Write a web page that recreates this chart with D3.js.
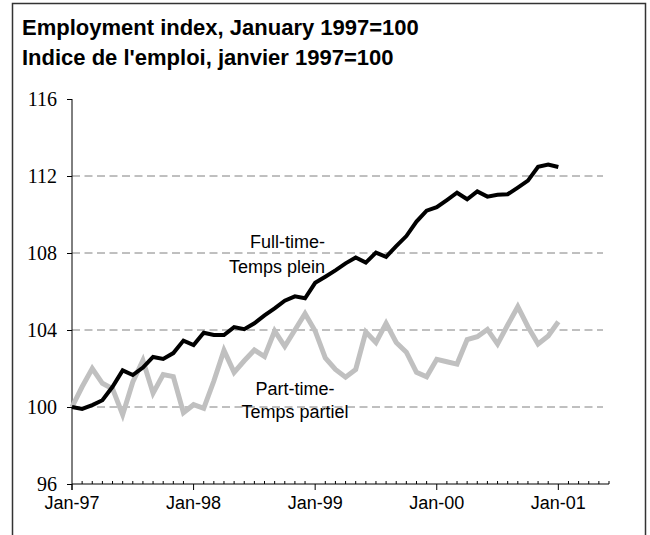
<!DOCTYPE html>
<html>
<head>
<meta charset="utf-8">
<script src="https://cdn.jsdelivr.net/npm/d3@7"></script>
<style>
    body { margin: 0; background: #fff; }
    svg { display: block; }
</style>
</head>
<body>
<svg id="chart" width="650" height="535" viewBox="0 0 650 535"></svg>
<script>
// monthly values, Jan-97 .. Jan-01
const fullTime = [
    100.0, 99.9, 100.1, 100.35, 101.05, 101.9, 101.66, 102.05, 102.6, 102.5, 102.8, 103.45,
    103.22, 103.86, 103.74, 103.74, 104.15, 104.04, 104.35, 104.76, 105.12, 105.52, 105.75, 105.65,
    106.45, 106.77, 107.1, 107.46, 107.77, 107.5, 108.02, 107.8, 108.36, 108.88, 109.63, 110.2,
    110.38, 110.75, 111.13, 110.79, 111.2, 110.93, 111.03, 111.05, 111.4, 111.76, 112.48, 112.6, 112.47
];
const partTime = [
    100.0, 101.05, 102.0, 101.23, 100.95, 99.6, 101.3, 102.42, 100.72, 101.68, 101.58, 99.7,
    100.12, 99.93, 101.35, 102.94, 101.8, 102.4, 102.96, 102.62, 103.95, 103.15, 104.0, 104.85,
    103.95, 102.55, 101.95, 101.55, 101.95, 103.9, 103.35, 104.35, 103.35, 102.85, 101.8, 101.57,
    102.48, 102.35, 102.23, 103.5, 103.65, 104.03, 103.27, 104.26, 105.21, 104.17, 103.27, 103.69, 104.43
];
const yTicks = [96, 100, 104, 108, 112, 116];
const gridValues = [100, 104, 108, 112];
const yearLabels = ["Jan-97", "Jan-98", "Jan-99", "Jan-00", "Jan-01"];
const titleLines = ["Employment index, January 1997=100", "Indice de l'emploi, janvier 1997=100"];

const svg = d3.select("#chart");
const sans = "'Liberation Sans', Arial, sans-serif";
const serif = "'Liberation Serif', 'Times New Roman', serif";

// outer frame (no bottom edge)
svg.append("path")
    .attr("d", "M12.5,535 V3.5 H645.5 V535")
    .attr("fill", "none")
    .attr("stroke", "#333")
    .attr("stroke-width", 1.5);

svg.append("g")
    .selectAll("text")
    .data(titleLines)
    .enter()
    .append("text")
    .attr("x", 22)
    .attr("y", (d, i) => 35 + i * 30)
    .attr("font-family", sans)
    .attr("font-weight", "bold")
    .attr("font-size", 22)
    .text(d => d);

const x = d3.scaleLinear().domain([0, 53]).range([72, 609]);
const y = d3.scaleLinear().domain([96, 116]).range([484, 99]);

// dashed gridlines
svg.append("g")
    .selectAll("line")
    .data(gridValues)
    .enter()
    .append("line")
    .attr("x1", x(0))
    .attr("x2", x(53) - 6)
    .attr("y1", d => y(d))
    .attr("y2", d => y(d))
    .attr("stroke", "#808080")
    .attr("stroke-width", 1)
    .attr("stroke-dasharray", "8,4.5");

// y axis
const yAxis = svg.append("g")
    .attr("transform", `translate(${x(0)},0)`)
    .call(d3.axisLeft(y).tickValues(yTicks).tickSize(5).tickPadding(10).tickFormat(d3.format("d")));
yAxis.select(".domain").attr("d", `M0,${y(116)}V${y(96) + 6}`).attr("stroke", "#000");
yAxis.selectAll("text")
    .style("font-family", serif)
    .style("font-size", "20px")
    .attr("fill", "#000");

// x axis: minor ticks each month upward, major ticks each January downward
const months = d3.range(0, 54);
const xAxis = svg.append("g").attr("transform", `translate(0,${y(96)})`);
xAxis.append("line")
    .attr("x1", x(0)).attr("x2", x(53))
    .attr("stroke", "#000");
xAxis.selectAll(".minor")
    .data(months.filter(m => m % 12 !== 0))
    .enter()
    .append("line")
    .attr("class", "minor")
    .attr("x1", d => x(d)).attr("x2", d => x(d))
    .attr("y1", 0).attr("y2", -3)
    .attr("stroke", "#000");
xAxis.selectAll(".major")
    .data(yearLabels)
    .enter()
    .append("line")
    .attr("class", "major")
    .attr("x1", (d, i) => x(i * 12)).attr("x2", (d, i) => x(i * 12))
    .attr("y1", 0).attr("y2", 6)
    .attr("stroke", "#000");
xAxis.selectAll("text")
    .data(yearLabels)
    .enter()
    .append("text")
    .attr("x", (d, i) => x(i * 12))
    .attr("y", 25)
    .attr("text-anchor", "middle")
    .style("font-family", sans)
    .style("font-size", "18px")
    .text(d => d);

const line = d3.line()
    .x((d, i) => x(i))
    .y(d => y(d));

svg.append("path")
    .datum(partTime)
    .attr("d", line)
    .attr("fill", "none")
    .attr("stroke", "#c0c0c0")
    .attr("stroke-width", 5)
    .attr("stroke-linejoin", "miter");

svg.append("path")
    .datum(fullTime)
    .attr("d", line)
    .attr("fill", "none")
    .attr("stroke", "#000")
    .attr("stroke-width", 4)
    .attr("stroke-linejoin", "miter");

// series labels
const labels = [
    { text: "Full-time-", x: 325, y: 248, anchor: "end" },
    { text: "Temps plein", x: 325, y: 273, anchor: "end" },
    { text: "Part-time-", x: 295, y: 395, anchor: "middle" },
    { text: "Temps partiel", x: 295, y: 418, anchor: "middle" }
];
svg.append("g")
    .selectAll("text")
    .data(labels)
    .enter()
    .append("text")
    .attr("x", d => d.x)
    .attr("y", d => d.y)
    .attr("text-anchor", d => d.anchor)
    .style("font-family", sans)
    .style("font-size", "18px")
    .text(d => d.text);
</script>
</body>
</html>
